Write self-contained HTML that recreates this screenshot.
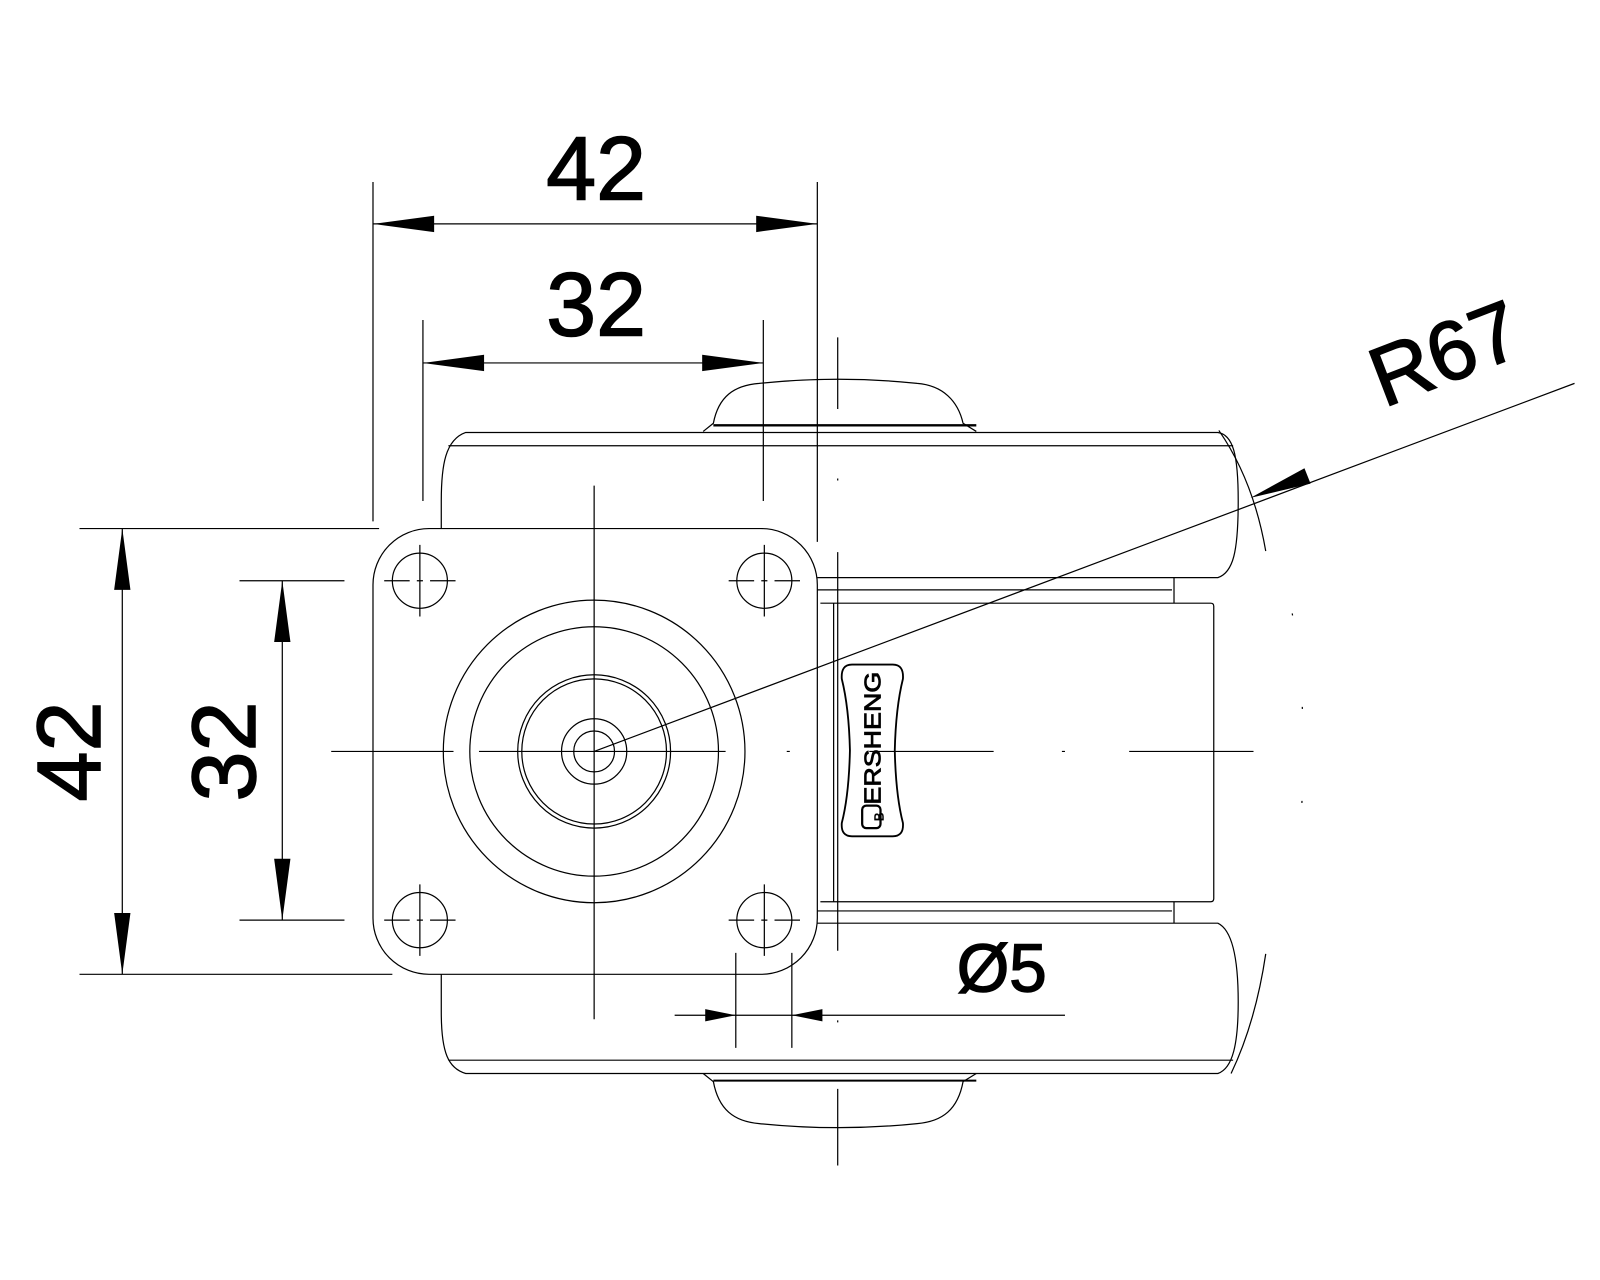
<!DOCTYPE html>
<html><head><meta charset="utf-8"><style>html,body{margin:0;padding:0;background:#fff}svg{display:block}</style></head>
<body>
<svg width="1600" height="1280" viewBox="0 0 1570 1252" preserveAspectRatio="none" xmlns="http://www.w3.org/2000/svg">
<g fill="none" stroke="#000" stroke-width="1.2">
<path d="M433,517 L433,490 C433,455 437,430 457,423 L1195,423 C1210,425 1215,445 1215,490 C1215,540 1210,560 1195,565 L802,565"/>
<path d="M440,436 H1210"/>
<path d="M690,422 L700,414 C705,388 720,377 745,375 Q823,367 900,375 C925,377 940,392 945,414 L958,422"/>
<path d="M700,416 H958" stroke-width="2.4"/>
<path d="M433,953 L433,990 C433,1030 440,1045 457,1050 L1195,1050 C1210,1045 1215,1020 1215,980 C1215,940 1210,910 1195,903 L802,903"/>
<path d="M440,1037 H1210"/>
<path d="M690,1050 L700,1058 C705,1085 720,1097 745,1099 Q823,1107 900,1099 C925,1097 940,1085 945,1058 L958,1050"/>
<path d="M700,1057 H958" stroke-width="2"/>
<path d="M802,577 H1150 M1152,565 V590 M805,590 H1188 Q1191,590 1191,593 V879 Q1191,882 1188,882 H805 M802,891 H1150 M1152,882 V903 M818,590 V882"/>
<rect x="366" y="517" width="436" height="436" rx="55" ry="55" fill="#fff"/>
<circle cx="583" cy="735" r="148"/>
<circle cx="583" cy="735" r="122"/>
<circle cx="583" cy="735" r="75"/>
<circle cx="583" cy="735" r="71"/>
<circle cx="583" cy="735" r="32"/>
<circle cx="583" cy="735" r="20"/>
<circle cx="412" cy="568" r="27"/><circle cx="750" cy="568" r="27"/>
<circle cx="412" cy="900" r="27"/><circle cx="750" cy="900" r="27"/>
<path d="M377,568 H402 M409,568 H415 M422,568 H447 M412,533 V603 M715,568 H740 M747,568 H753 M760,568 H785 M750,533 V603 M377,900 H402 M409,900 H415 M422,900 H447 M412,865 V935 M715,900 H740 M747,900 H753 M760,900 H785 M750,865 V935"/>
<path d="M325,735 H445 M470,735 H712 M772,735 H775 M853,735 H975 M1042,735 H1045 M1108,735 H1230"/>
<path d="M583,475 V997 M822,330 V400 M822,540 V930 M822,1065 V1140 M822,468 V470 M822,998 V1000"/>
<path d="M836,650 H876 Q887,650 886,664 Q879,692 878,734 Q879,778 886,805 Q887,818 876,818 H836 Q825,818 826,805 Q833,778 834,734 Q833,692 826,664 Q825,650 836,650 Z" stroke-width="1.8"/>
<rect x="846" y="788" width="18" height="22" rx="4" stroke-width="2.2"/>
<path d="M583,735 L1545,375"/>
<path d="M1196,421 Q1230,470 1242,539"/>
<path d="M1268,600 Q1290,735 1268,870" stroke-dasharray="2,90"/>
<path d="M1242,933 Q1232,1000 1208,1050"/>
<path d="M366,178 V510 M802,178 V530 M415,313 V490 M749,313 V490"/>
<path d="M78,517 H372 M78,953 H385 M235,568 H338 M235,900 H338"/>
<path d="M366,219 H802 M415,355 H749 M120,517 V953 M277,568 V900"/>
<path d="M722,932 V1025 M777,932 V1025 M662,993 H1045"/>
</g>
<g fill="#000">
<path d="M366,219 L426,211 L426,227 Z M802,219 L742,211 L742,227 Z"/>
<path d="M415,355 L475,347 L475,363 Z M749,355 L689,347 L689,363 Z"/>
<path d="M120,517 L112,577 L128,577 Z M120,953 L112,893 L128,893 Z"/>
<path d="M277,568 L269,628 L285,628 Z M277,900 L269,840 L285,840 Z"/>
<path d="M722,993 L692,987 L692,999 Z M777,993 L807,987 L807,999 Z"/>
<path d="M1227,487 L1286,473 L1280,458 Z"/>
</g>
<g font-family="'Liberation Sans', sans-serif" fill="#000" stroke="#000" stroke-width="1.5" text-anchor="middle">
<text x="585" y="195" font-size="88">42</text>
<text x="585" y="328" font-size="88">32</text>
<text x="98" y="735" font-size="88" transform="rotate(-90 98 735)">42</text>
<text x="250" y="735" font-size="88" transform="rotate(-90 250 735)">32</text>
<text x="983" y="970" font-size="66">Ø5</text>
<text x="1428" y="372" font-size="82" transform="rotate(-21 1428 372)">R67</text>
<text x="864" y="722" font-size="23" stroke-width="0.8" transform="rotate(-90 864 722)" textLength="130" lengthAdjust="spacingAndGlyphs">ERSHENG</text>
<text x="862" y="804" font-size="13" stroke-width="0.5" transform="rotate(-90 862 799)">B</text>
</g>
</svg>
</body></html>
